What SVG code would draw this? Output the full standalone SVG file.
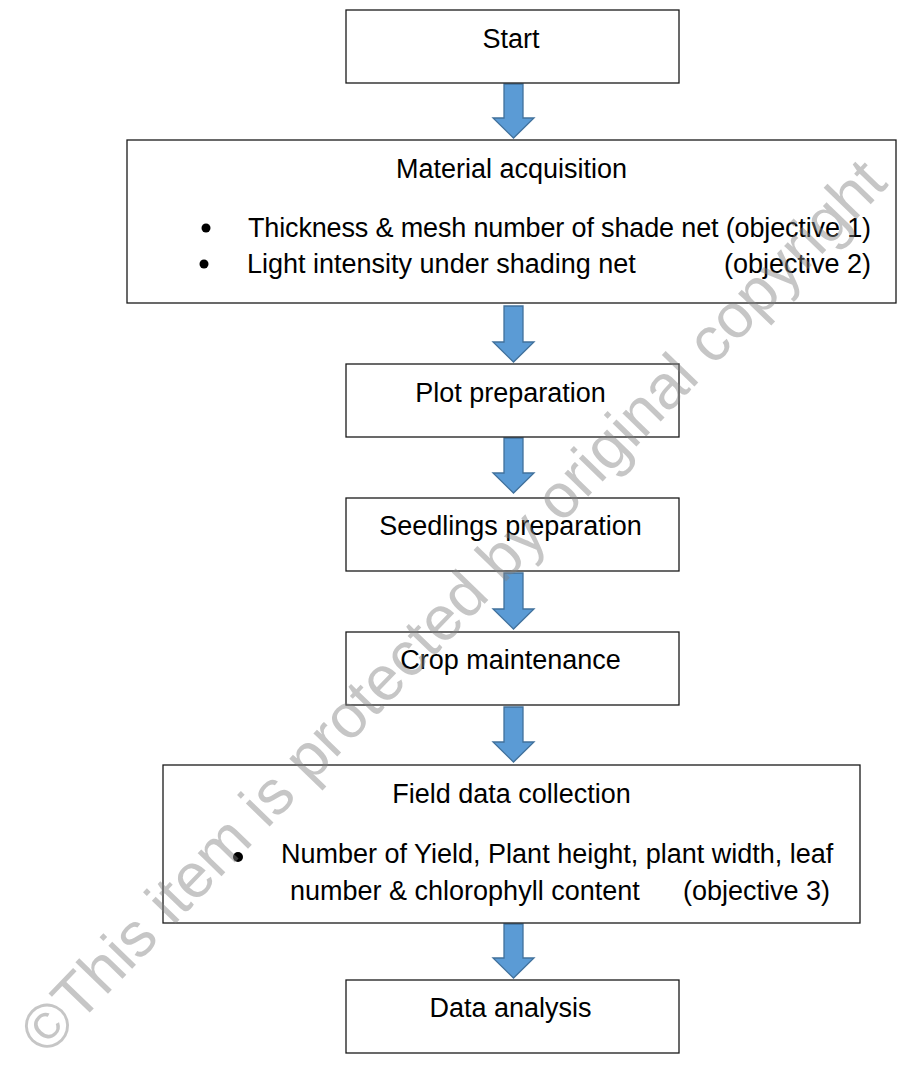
<svg xmlns="http://www.w3.org/2000/svg" width="904" height="1071" viewBox="0 0 904 1071">
  <style>
    .box { fill: #ffffff; stroke: #1a1a1a; stroke-width: 1.3; }
    .t { font-family: "Liberation Sans", Arial, sans-serif; font-size: 27px; fill: #000000; }
    .c { text-anchor: middle; }
    .e { text-anchor: end; }
    .bul { fill: #000000; }
    .arr { fill: #5b9bd5; stroke: #41719c; stroke-width: 1.3; stroke-linejoin: miter; }
    .wm { font-family: "Liberation Sans", Arial, sans-serif; font-size: 62.5px; fill: #808080; fill-opacity: 0.45; }
  </style>

  <g id="connectors">
    <path class="arr" d="M504,84 H523 V118 H534 L513.5,138 L493,118 H504 Z"/>
    <path class="arr" d="M504,306 H523 V342 H534 L513.5,362 L493,342 H504 Z"/>
    <path class="arr" d="M504,438 H523 V473 H534 L513.5,493 L493,473 H504 Z"/>
    <path class="arr" d="M504,573 H523 V609 H534 L513.5,629 L493,609 H504 Z"/>
    <path class="arr" d="M504,707 H523 V742 H534 L513.5,762 L493,742 H504 Z"/>
    <path class="arr" d="M504,924 H523 V958 H534 L513.5,978 L493,958 H504 Z"/>
  </g>

  <g id="node-start">
    <rect class="box" x="346" y="10" width="333" height="73"/>
    <text class="t c" x="511" y="48">Start</text>
  </g>

  <g id="node-material">
    <rect class="box" x="127" y="140" width="769" height="163"/>
    <text class="t c" x="511.5" y="178">Material acquisition</text>
    <circle class="bul" cx="206" cy="228" r="4.5"/>
    <text class="t" x="248" y="237" textLength="623" lengthAdjust="spacing">Thickness &amp; mesh number of shade net (objective 1)</text>
    <circle class="bul" cx="204" cy="264" r="4.5"/>
    <text class="t" x="247" y="273">Light intensity under shading net</text>
    <text class="t e" x="871" y="273">(objective 2)</text>
  </g>

  <g id="node-plot">
    <rect class="box" x="346" y="364" width="333" height="73"/>
    <text class="t c" x="510.5" y="402">Plot preparation</text>
  </g>

  <g id="node-seedlings">
    <rect class="box" x="346" y="498" width="333" height="73"/>
    <text class="t c" x="510.5" y="535">Seedlings preparation</text>
  </g>

  <g id="node-crop">
    <rect class="box" x="346" y="632" width="333" height="73"/>
    <text class="t c" x="510.5" y="669">Crop maintenance</text>
  </g>

  <g id="node-field">
    <rect class="box" x="163" y="765" width="697" height="158"/>
    <text class="t c" x="511.5" y="803">Field data collection</text>
    <circle class="bul" cx="238" cy="857" r="5"/>
    <text class="t" x="281" y="863">Number of Yield, Plant height, plant width, leaf</text>
    <text class="t" x="290" y="900">number &amp; chlorophyll content</text>
    <text class="t e" x="830" y="900">(objective 3)</text>
  </g>

  <g id="node-analysis">
    <rect class="box" x="346" y="980" width="333" height="73"/>
    <text class="t c" x="510.5" y="1017">Data analysis</text>
  </g>

  <g id="watermark">
    <text class="wm c" x="468" y="621" transform="rotate(-46 468 621)">©This item is protected by original copyright</text>
  </g>
</svg>
